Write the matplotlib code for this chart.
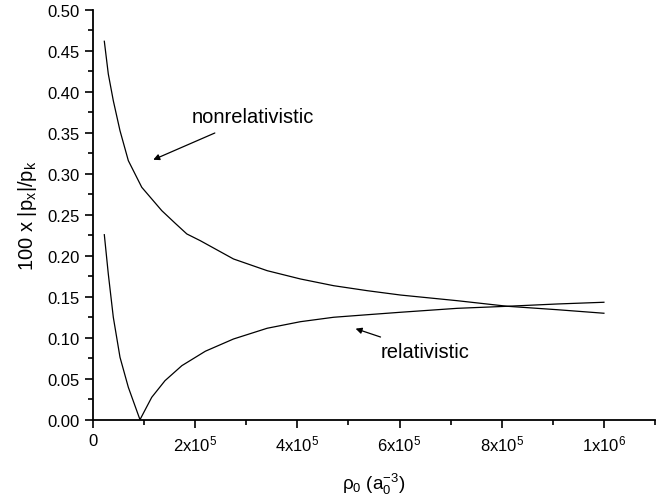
import numpy as np
import matplotlib
matplotlib.use("Agg")
import matplotlib.pyplot as plt
from matplotlib.ticker import FixedLocator, MultipleLocator

plt.rcParams['font.family'] = ['Liberation Sans', 'DejaVu Sans']
plt.rcParams['mathtext.fontset'] = 'custom'
plt.rcParams['mathtext.rm'] = 'Liberation Sans'
plt.rcParams['mathtext.it'] = 'Liberation Sans'
plt.rcParams['mathtext.default'] = 'regular'

# nonrelativistic curve
nonrel_x = [2.22e4, 3.0e4, 3.98e4, 5.29e4, 6.92e4, 9.55e4, 1.347e5, 1.61e5,
            1.837e5, 2.10e5, 2.75e5, 3.41e5, 4.06e5, 4.71e5, 5.37e5, 6.02e5,
            7.13e5, 8.11e5, 9.09e5, 1.0e6]
nonrel_y = [0.4615, 0.4216, 0.389, 0.3524, 0.3159, 0.2834, 0.2549, 0.2395,
            0.2265, 0.2183, 0.196, 0.1817, 0.1716, 0.1634, 0.1573, 0.152,
            0.1451, 0.1383, 0.1341, 0.1298]

# relativistic curve
rel_x = [2.22e4, 3.0e4, 3.98e4, 5.29e4, 6.92e4, 9.2e4, 1.15e5, 1.41e5, 1.74e5,
         2.2e5, 2.75e5, 3.41e5, 4.06e5, 4.71e5, 5.37e5, 6.02e5, 7.13e5,
         8.11e5, 9.09e5, 1.0e6]
rel_y = [0.2256, 0.1777, 0.1249, 0.0761, 0.0395, 0.0, 0.0273, 0.0476, 0.0659,
         0.0835, 0.0984, 0.1115, 0.1195, 0.1249, 0.128, 0.131, 0.1358,
         0.1383, 0.1411, 0.1432]

xtick_vals = [0, 2e5, 4e5, 6e5, 8e5, 1e6]
xtick_labels = ['0', '2x10$^5$', '4x10$^5$', '6x10$^5$', '8x10$^5$', '1x10$^6$']
ytick_vals = [0.0, 0.05, 0.10, 0.15, 0.20, 0.25, 0.30, 0.35, 0.40, 0.45, 0.50]

fig = plt.figure(figsize=(6.66, 5.02), dpi=100)
ax = fig.add_axes([0.1396, 0.162, 0.8439, 0.8167])

ax.plot(nonrel_x, nonrel_y, color='black', lw=0.9)
ax.plot(rel_x, rel_y, color='black', lw=0.9)

ax.set_xlim(0, 1.1e6)
ax.set_ylim(0, 0.5)

ax.xaxis.set_major_locator(FixedLocator(xtick_vals))
ax.set_xticklabels(xtick_labels)
ax.xaxis.set_minor_locator(MultipleLocator(1e5))
ax.yaxis.set_major_locator(FixedLocator(ytick_vals))
ax.set_yticklabels([f"{v:.2f}" for v in ytick_vals])
ax.yaxis.set_minor_locator(MultipleLocator(0.025))

for s in ['top', 'right']:
    ax.spines[s].set_visible(False)
for s in ['left', 'bottom']:
    ax.spines[s].set_linewidth(1.3)

ax.tick_params(which='major', direction='out', length=5.8, width=1.2, labelsize=12, pad=4)
ax.tick_params(which='minor', direction='out', length=3.6, width=1.2)

ax.set_xlabel('ρ$_0$ (a$_0^{-3}$)', fontsize=13.5, labelpad=13)
ax.set_ylabel('100 x |p$_x$|/p$_k$', fontsize=14.5, labelpad=6)

ax.annotate('nonrelativistic', xy=(1.18e5, 0.317), xytext=(1.94e5, 0.370),
            fontsize=14.5, va='center', ha='left',
            arrowprops=dict(arrowstyle='-|>', color='black', lw=0.9,
                            shrinkA=8, shrinkB=0, mutation_scale=9))
ax.annotate('relativistic', xy=(5.14e5, 0.111), xytext=(5.63e5, 0.0826),
            fontsize=14.5, va='center', ha='left',
            arrowprops=dict(arrowstyle='-|>', color='black', lw=0.9,
                            shrinkA=6, shrinkB=0, mutation_scale=9))

fig.savefig('out.png', dpi=100)
